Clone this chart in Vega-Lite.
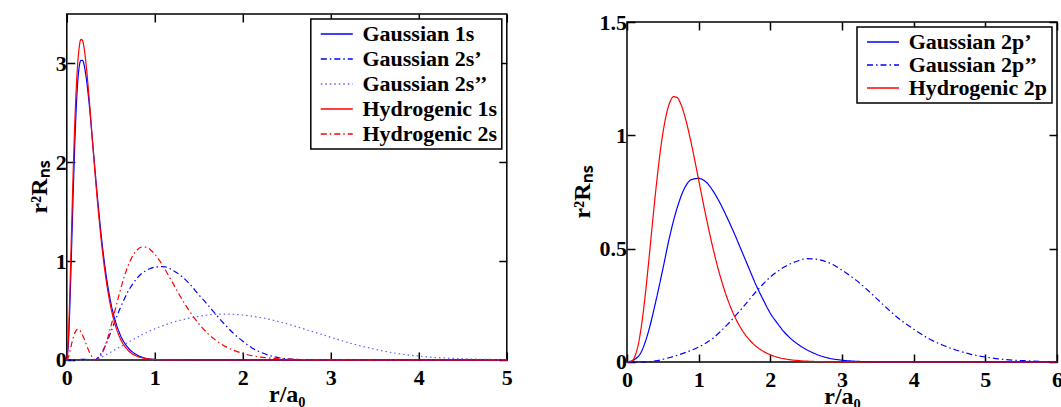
{
"$schema": "https://vega.github.io/schema/vega-lite/v6.json",
"background": "white",
"padding": {"left": 25.8, "top": 10, "right": 0, "bottom": 0},
"config": {
  "view": {"stroke": "black", "strokeWidth": 1.5},
  "font": "Liberation Serif",
  "axis": {"labelFont": "Liberation Serif", "labelFontWeight": "bold", "labelFontSize": 22, "labelColor": "black",
           "titleFont": "Liberation Serif", "titleFontWeight": "bold", "titleFontSize": 24, "titleColor": "black",
           "grid": false, "domain": false, "tickColor": "black", "tickSize": -8, "tickWidth": 1.5, "labelFlush": false, "format": "~g"},
  "axisX": {"labelPadding": 16, "titlePadding": -6},
  "axisY": {"labelPadding": 8.5, "titlePadding": 4},
  "legend": {"labelFont": "Liberation Serif", "labelFontWeight": "bold", "labelFontSize": 22, "labelColor": "black",
             "strokeColor": "black", "strokeWidth": 1.5, "fillColor": "white", "padding": 4, "symbolSize": 256, "symbolStrokeWidth": 1.3,
             "symbolType": "M-2,0H2", "symbolOffset": 11, "labelOffset": 14.7, "rowPadding": 3, "labelLimit": 300,
             "orient": "top-right", "offset": 5}
},
"datasets": {
  "left": [
    {"s":"Gaussian 1s","r":0,"v":0},{"s":"Gaussian 1s","r":0.02,"v":0.2},{"s":"Gaussian 1s","r":0.04,"v":0.7},{"s":"Gaussian 1s","r":0.06,"v":1.3},{"s":"Gaussian 1s","r":0.08,"v":1.9},{"s":"Gaussian 1s","r":0.1,"v":2.4},{"s":"Gaussian 1s","r":0.12,"v":2.76},{"s":"Gaussian 1s","r":0.14,"v":2.96},{"s":"Gaussian 1s","r":0.16,"v":3.03},{"s":"Gaussian 1s","r":0.18,"v":3.03},{"s":"Gaussian 1s","r":0.2,"v":2.97},{"s":"Gaussian 1s","r":0.22,"v":2.86},{"s":"Gaussian 1s","r":0.25,"v":2.63},{"s":"Gaussian 1s","r":0.3,"v":2.13},{"s":"Gaussian 1s","r":0.35,"v":1.63},{"s":"Gaussian 1s","r":0.4,"v":1.19},{"s":"Gaussian 1s","r":0.45,"v":0.84},{"s":"Gaussian 1s","r":0.5,"v":0.58},{"s":"Gaussian 1s","r":0.55,"v":0.4},{"s":"Gaussian 1s","r":0.6,"v":0.27},{"s":"Gaussian 1s","r":0.7,"v":0.12},{"s":"Gaussian 1s","r":0.8,"v":0.05},{"s":"Gaussian 1s","r":0.9,"v":0.018},{"s":"Gaussian 1s","r":1.0,"v":0.006},{"s":"Gaussian 1s","r":1.2,"v":0.001},{"s":"Gaussian 1s","r":1.5,"v":0},{"s":"Gaussian 1s","r":3,"v":0},{"s":"Gaussian 1s","r":5,"v":0},
    {"s":"Gaussian 2s’","r":0,"v":0},{"s":"Gaussian 2s’","r":0.1,"v":0.004},{"s":"Gaussian 2s’","r":0.2,"v":0.006},{"s":"Gaussian 2s’","r":0.3,"v":0.001},{"s":"Gaussian 2s’","r":0.32,"v":0},{"s":"Gaussian 2s’","r":0.36,"v":0.03},{"s":"Gaussian 2s’","r":0.4,"v":0.08},{"s":"Gaussian 2s’","r":0.45,"v":0.17},{"s":"Gaussian 2s’","r":0.5,"v":0.28},{"s":"Gaussian 2s’","r":0.55,"v":0.4},{"s":"Gaussian 2s’","r":0.6,"v":0.51},{"s":"Gaussian 2s’","r":0.65,"v":0.61},{"s":"Gaussian 2s’","r":0.7,"v":0.7},{"s":"Gaussian 2s’","r":0.75,"v":0.77},{"s":"Gaussian 2s’","r":0.8,"v":0.83},{"s":"Gaussian 2s’","r":0.85,"v":0.875},{"s":"Gaussian 2s’","r":0.9,"v":0.905},{"s":"Gaussian 2s’","r":0.95,"v":0.925},{"s":"Gaussian 2s’","r":1.0,"v":0.94},{"s":"Gaussian 2s’","r":1.1,"v":0.945},{"s":"Gaussian 2s’","r":1.2,"v":0.91},{"s":"Gaussian 2s’","r":1.3,"v":0.85},{"s":"Gaussian 2s’","r":1.4,"v":0.765},{"s":"Gaussian 2s’","r":1.5,"v":0.66},{"s":"Gaussian 2s’","r":1.6,"v":0.56},{"s":"Gaussian 2s’","r":1.7,"v":0.455},{"s":"Gaussian 2s’","r":1.8,"v":0.355},{"s":"Gaussian 2s’","r":1.9,"v":0.265},{"s":"Gaussian 2s’","r":2.0,"v":0.19},{"s":"Gaussian 2s’","r":2.1,"v":0.125},{"s":"Gaussian 2s’","r":2.2,"v":0.08},{"s":"Gaussian 2s’","r":2.3,"v":0.047},{"s":"Gaussian 2s’","r":2.4,"v":0.025},{"s":"Gaussian 2s’","r":2.5,"v":0.013},{"s":"Gaussian 2s’","r":2.6,"v":0.006},{"s":"Gaussian 2s’","r":2.8,"v":0.002},{"s":"Gaussian 2s’","r":3.0,"v":0},{"s":"Gaussian 2s’","r":5,"v":0},
    {"s":"Gaussian 2s’’","r":0,"v":0},{"s":"Gaussian 2s’’","r":0.2,"v":0},{"s":"Gaussian 2s’’","r":0.3,"v":0},{"s":"Gaussian 2s’’","r":0.35,"v":0.01},{"s":"Gaussian 2s’’","r":0.4,"v":0.03},{"s":"Gaussian 2s’’","r":0.5,"v":0.08},{"s":"Gaussian 2s’’","r":0.6,"v":0.13},{"s":"Gaussian 2s’’","r":0.7,"v":0.18},{"s":"Gaussian 2s’’","r":0.8,"v":0.23},{"s":"Gaussian 2s’’","r":0.9,"v":0.275},{"s":"Gaussian 2s’’","r":1.0,"v":0.315},{"s":"Gaussian 2s’’","r":1.2,"v":0.38},{"s":"Gaussian 2s’’","r":1.4,"v":0.425},{"s":"Gaussian 2s’’","r":1.6,"v":0.455},{"s":"Gaussian 2s’’","r":1.8,"v":0.465},{"s":"Gaussian 2s’’","r":2.0,"v":0.455},{"s":"Gaussian 2s’’","r":2.2,"v":0.43},{"s":"Gaussian 2s’’","r":2.4,"v":0.39},{"s":"Gaussian 2s’’","r":2.6,"v":0.34},{"s":"Gaussian 2s’’","r":2.8,"v":0.285},{"s":"Gaussian 2s’’","r":3.0,"v":0.23},{"s":"Gaussian 2s’’","r":3.2,"v":0.175},{"s":"Gaussian 2s’’","r":3.4,"v":0.13},{"s":"Gaussian 2s’’","r":3.6,"v":0.09},{"s":"Gaussian 2s’’","r":3.8,"v":0.06},{"s":"Gaussian 2s’’","r":4.0,"v":0.04},{"s":"Gaussian 2s’’","r":4.2,"v":0.025},{"s":"Gaussian 2s’’","r":4.4,"v":0.016},{"s":"Gaussian 2s’’","r":4.6,"v":0.01},{"s":"Gaussian 2s’’","r":4.8,"v":0.006},{"s":"Gaussian 2s’’","r":5.0,"v":0.003},
    {"s":"Hydrogenic 1s","r":0,"v":0},{"s":"Hydrogenic 1s","r":0.02,"v":0.272},{"s":"Hydrogenic 1s","r":0.04,"v":0.855},{"s":"Hydrogenic 1s","r":0.06,"v":1.514},{"s":"Hydrogenic 1s","r":0.08,"v":2.117},{"s":"Hydrogenic 1s","r":0.1,"v":2.602},{"s":"Hydrogenic 1s","r":0.12,"v":2.948},{"s":"Hydrogenic 1s","r":0.14,"v":3.156},{"s":"Hydrogenic 1s","r":0.16,"v":3.243},{"s":"Hydrogenic 1s","r":0.18,"v":3.229},{"s":"Hydrogenic 1s","r":0.2,"v":3.135},{"s":"Hydrogenic 1s","r":0.22,"v":2.984},{"s":"Hydrogenic 1s","r":0.25,"v":2.689},{"s":"Hydrogenic 1s","r":0.3,"v":2.125},{"s":"Hydrogenic 1s","r":0.35,"v":1.587},{"s":"Hydrogenic 1s","r":0.4,"v":1.138},{"s":"Hydrogenic 1s","r":0.45,"v":0.79},{"s":"Hydrogenic 1s","r":0.5,"v":0.535},{"s":"Hydrogenic 1s","r":0.55,"v":0.356},{"s":"Hydrogenic 1s","r":0.6,"v":0.232},{"s":"Hydrogenic 1s","r":0.7,"v":0.095},{"s":"Hydrogenic 1s","r":0.8,"v":0.0375},{"s":"Hydrogenic 1s","r":0.9,"v":0.0143},{"s":"Hydrogenic 1s","r":1.0,"v":0.0053},{"s":"Hydrogenic 1s","r":1.2,"v":0.0007},{"s":"Hydrogenic 1s","r":1.5,"v":0},{"s":"Hydrogenic 1s","r":3,"v":0},{"s":"Hydrogenic 1s","r":5,"v":0},
    {"s":"Hydrogenic 2s","r":0,"v":0},{"s":"Hydrogenic 2s","r":0.02,"v":0.034},{"s":"Hydrogenic 2s","r":0.05,"v":0.145},{"s":"Hydrogenic 2s","r":0.08,"v":0.247},{"s":"Hydrogenic 2s","r":0.1,"v":0.29},{"s":"Hydrogenic 2s","r":0.12,"v":0.31},{"s":"Hydrogenic 2s","r":0.14,"v":0.307},{"s":"Hydrogenic 2s","r":0.16,"v":0.286},{"s":"Hydrogenic 2s","r":0.2,"v":0.208},{"s":"Hydrogenic 2s","r":0.25,"v":0.094},{"s":"Hydrogenic 2s","r":0.3,"v":0.016},{"s":"Hydrogenic 2s","r":0.333,"v":0},{"s":"Hydrogenic 2s","r":0.36,"v":0.01},{"s":"Hydrogenic 2s","r":0.4,"v":0.063},{"s":"Hydrogenic 2s","r":0.45,"v":0.18},{"s":"Hydrogenic 2s","r":0.5,"v":0.336},{"s":"Hydrogenic 2s","r":0.55,"v":0.509},{"s":"Hydrogenic 2s","r":0.6,"v":0.68},{"s":"Hydrogenic 2s","r":0.65,"v":0.834},{"s":"Hydrogenic 2s","r":0.7,"v":0.96},{"s":"Hydrogenic 2s","r":0.75,"v":1.055},{"s":"Hydrogenic 2s","r":0.8,"v":1.115},{"s":"Hydrogenic 2s","r":0.85,"v":1.143},{"s":"Hydrogenic 2s","r":0.9,"v":1.142},{"s":"Hydrogenic 2s","r":0.95,"v":1.116},{"s":"Hydrogenic 2s","r":1.0,"v":1.071},{"s":"Hydrogenic 2s","r":1.1,"v":0.941},{"s":"Hydrogenic 2s","r":1.2,"v":0.785},{"s":"Hydrogenic 2s","r":1.3,"v":0.629},{"s":"Hydrogenic 2s","r":1.4,"v":0.487},{"s":"Hydrogenic 2s","r":1.5,"v":0.367},{"s":"Hydrogenic 2s","r":1.6,"v":0.27},{"s":"Hydrogenic 2s","r":1.7,"v":0.195},{"s":"Hydrogenic 2s","r":1.8,"v":0.138},{"s":"Hydrogenic 2s","r":2.0,"v":0.066},{"s":"Hydrogenic 2s","r":2.2,"v":0.03},{"s":"Hydrogenic 2s","r":2.4,"v":0.013},{"s":"Hydrogenic 2s","r":2.6,"v":0.006},{"s":"Hydrogenic 2s","r":2.8,"v":0.002},{"s":"Hydrogenic 2s","r":3.0,"v":0.001},{"s":"Hydrogenic 2s","r":3.5,"v":0},{"s":"Hydrogenic 2s","r":5,"v":0}
  ],
  "right": [
    {"s":"Gaussian 2p’","r":0,"v":0},{"s":"Gaussian 2p’","r":0.1,"v":0.01},{"s":"Gaussian 2p’","r":0.2,"v":0.045},{"s":"Gaussian 2p’","r":0.3,"v":0.135},{"s":"Gaussian 2p’","r":0.4,"v":0.265},{"s":"Gaussian 2p’","r":0.5,"v":0.41},{"s":"Gaussian 2p’","r":0.6,"v":0.56},{"s":"Gaussian 2p’","r":0.7,"v":0.68},{"s":"Gaussian 2p’","r":0.8,"v":0.765},{"s":"Gaussian 2p’","r":0.9,"v":0.805},{"s":"Gaussian 2p’","r":1.0,"v":0.81},{"s":"Gaussian 2p’","r":1.1,"v":0.795},{"s":"Gaussian 2p’","r":1.2,"v":0.755},{"s":"Gaussian 2p’","r":1.3,"v":0.7},{"s":"Gaussian 2p’","r":1.4,"v":0.635},{"s":"Gaussian 2p’","r":1.5,"v":0.565},{"s":"Gaussian 2p’","r":1.6,"v":0.49},{"s":"Gaussian 2p’","r":1.7,"v":0.415},{"s":"Gaussian 2p’","r":1.8,"v":0.34},{"s":"Gaussian 2p’","r":1.9,"v":0.275},{"s":"Gaussian 2p’","r":2.0,"v":0.215},{"s":"Gaussian 2p’","r":2.1,"v":0.17},{"s":"Gaussian 2p’","r":2.2,"v":0.13},{"s":"Gaussian 2p’","r":2.4,"v":0.075},{"s":"Gaussian 2p’","r":2.6,"v":0.04},{"s":"Gaussian 2p’","r":2.8,"v":0.018},{"s":"Gaussian 2p’","r":3.0,"v":0.008},{"s":"Gaussian 2p’","r":3.2,"v":0.003},{"s":"Gaussian 2p’","r":3.5,"v":0.0005},{"s":"Gaussian 2p’","r":4,"v":0},{"s":"Gaussian 2p’","r":6,"v":0},
    {"s":"Gaussian 2p’’","r":0,"v":0},{"s":"Gaussian 2p’’","r":0.2,"v":0},{"s":"Gaussian 2p’’","r":0.4,"v":0.005},{"s":"Gaussian 2p’’","r":0.6,"v":0.02},{"s":"Gaussian 2p’’","r":0.8,"v":0.04},{"s":"Gaussian 2p’’","r":1.0,"v":0.066},{"s":"Gaussian 2p’’","r":1.2,"v":0.105},{"s":"Gaussian 2p’’","r":1.4,"v":0.165},{"s":"Gaussian 2p’’","r":1.6,"v":0.235},{"s":"Gaussian 2p’’","r":1.8,"v":0.31},{"s":"Gaussian 2p’’","r":2.0,"v":0.375},{"s":"Gaussian 2p’’","r":2.2,"v":0.42},{"s":"Gaussian 2p’’","r":2.4,"v":0.448},{"s":"Gaussian 2p’’","r":2.5,"v":0.456},{"s":"Gaussian 2p’’","r":2.6,"v":0.455},{"s":"Gaussian 2p’’","r":2.8,"v":0.44},{"s":"Gaussian 2p’’","r":3.0,"v":0.405},{"s":"Gaussian 2p’’","r":3.2,"v":0.36},{"s":"Gaussian 2p’’","r":3.4,"v":0.305},{"s":"Gaussian 2p’’","r":3.6,"v":0.245},{"s":"Gaussian 2p’’","r":3.8,"v":0.19},{"s":"Gaussian 2p’’","r":4.0,"v":0.145},{"s":"Gaussian 2p’’","r":4.2,"v":0.105},{"s":"Gaussian 2p’’","r":4.4,"v":0.075},{"s":"Gaussian 2p’’","r":4.6,"v":0.052},{"s":"Gaussian 2p’’","r":4.8,"v":0.034},{"s":"Gaussian 2p’’","r":5.0,"v":0.022},{"s":"Gaussian 2p’’","r":5.2,"v":0.013},{"s":"Gaussian 2p’’","r":5.4,"v":0.008},{"s":"Gaussian 2p’’","r":5.6,"v":0.005},{"s":"Gaussian 2p’’","r":5.8,"v":0.002},{"s":"Gaussian 2p’’","r":6.0,"v":0.001},
    {"s":"Hydrogenic 2p","r":0,"v":0},{"s":"Hydrogenic 2p","r":0.05,"v":0.0015},{"s":"Hydrogenic 2p","r":0.1,"v":0.0178},{"s":"Hydrogenic 2p","r":0.15,"v":0.0667},{"s":"Hydrogenic 2p","r":0.2,"v":0.1561},{"s":"Hydrogenic 2p","r":0.25,"v":0.2824},{"s":"Hydrogenic 2p","r":0.3,"v":0.4338},{"s":"Hydrogenic 2p","r":0.35,"v":0.5954},{"s":"Hydrogenic 2p","r":0.4,"v":0.7525},{"s":"Hydrogenic 2p","r":0.45,"v":0.8929},{"s":"Hydrogenic 2p","r":0.5,"v":1.0082},{"s":"Hydrogenic 2p","r":0.55,"v":1.0935},{"s":"Hydrogenic 2p","r":0.6,"v":1.1473},{"s":"Hydrogenic 2p","r":0.65,"v":1.1707},{"s":"Hydrogenic 2p","r":0.7,"v":1.1666},{"s":"Hydrogenic 2p","r":0.75,"v":1.1389},{"s":"Hydrogenic 2p","r":0.8,"v":1.0921},{"s":"Hydrogenic 2p","r":0.9,"v":0.9601},{"s":"Hydrogenic 2p","r":1.0,"v":0.8031},{"s":"Hydrogenic 2p","r":1.1,"v":0.6453},{"s":"Hydrogenic 2p","r":1.2,"v":0.5016},{"s":"Hydrogenic 2p","r":1.3,"v":0.3792},{"s":"Hydrogenic 2p","r":1.4,"v":0.2799},{"s":"Hydrogenic 2p","r":1.5,"v":0.2024},{"s":"Hydrogenic 2p","r":1.6,"v":0.1438},{"s":"Hydrogenic 2p","r":1.7,"v":0.1006},{"s":"Hydrogenic 2p","r":1.8,"v":0.0694},{"s":"Hydrogenic 2p","r":1.9,"v":0.0473},{"s":"Hydrogenic 2p","r":2.0,"v":0.0319},{"s":"Hydrogenic 2p","r":2.2,"v":0.014},{"s":"Hydrogenic 2p","r":2.4,"v":0.006},{"s":"Hydrogenic 2p","r":2.6,"v":0.0025},{"s":"Hydrogenic 2p","r":2.8,"v":0.001},{"s":"Hydrogenic 2p","r":3.0,"v":0.0004},{"s":"Hydrogenic 2p","r":3.5,"v":0},{"s":"Hydrogenic 2p","r":6,"v":0}
  ]
},
"spacing": 56.2,
"resolve": {"scale": {"color": "independent", "strokeDash": "independent"}, "legend": {"color": "independent", "strokeDash": "independent"}},
"hconcat": [
  {
    "width": 440, "height": 346,
    "data": {"name": "left"},
    "layer": [
      {"mark": {"type": "line", "interpolate": "monotone", "strokeWidth": 1.2},
       "encoding": {
         "x": {"field": "r", "type": "quantitative", "scale": {"domain": [0, 5], "nice": false, "zero": false},
               "axis": {"orient": "bottom", "values": [0,1,2,3,4,5], "title": "r/a₀"}},
         "y": {"field": "v", "type": "quantitative", "scale": {"domain": [0, 3.5], "nice": false},
               "axis": {"orient": "left", "values": [0,1,2,3], "title": "r²Rₙₛ"}},
         "color": {"field": "s", "type": "nominal",
                   "scale": {"domain": ["Gaussian 1s","Gaussian 2s’","Gaussian 2s’’","Hydrogenic 1s","Hydrogenic 2s"],
                             "range": ["#0000ff","#0000ff","#6060ff","#ff0000","#ff0000"]},
                   "legend": {"title": null}},
         "strokeDash": {"field": "s", "type": "nominal",
                   "scale": {"domain": ["Gaussian 1s","Gaussian 2s’","Gaussian 2s’’","Hydrogenic 1s","Hydrogenic 2s"],
                             "range": [[1,0],[6,3,1.5,3],[1.5,3],[1,0],[6,3,1.5,3]]},
                   "legend": {"title": null}}
       }},
      {"mark": {"type": "line", "opacity": 0},
       "encoding": {
         "x": {"field": "r", "type": "quantitative", "axis": {"orient": "top", "values": [0,1,2,3,4,5], "labels": false, "title": null}},
         "y": {"field": "v", "type": "quantitative", "axis": {"orient": "right", "values": [0,1,2,3], "labels": false, "title": null}}
       }}
    ],
    "resolve": {"axis": {"x": "independent", "y": "independent"}}
  },
  {
    "bounds": "flush",
    "spacing": 7,
    "resolve": {"scale": {"color": "independent", "strokeDash": "independent"}, "legend": {"color": "independent", "strokeDash": "independent"}},
    "vconcat": [
      {"width": 430, "height": 1, "data": {"values": [{}]}, "mark": {"type": "rule", "opacity": 0}, "encoding": {}, "view": {"stroke": null}},
      {
        "width": 430, "height": 340,
        "data": {"name": "right"},
        "layer": [
          {"mark": {"type": "line", "interpolate": "monotone", "strokeWidth": 1.2},
           "encoding": {
             "x": {"field": "r", "type": "quantitative", "scale": {"domain": [0, 6], "nice": false, "zero": false},
                   "axis": {"orient": "bottom", "values": [0,1,2,3,4,5,6], "title": "r/a₀"}},
             "y": {"field": "v", "type": "quantitative", "scale": {"domain": [0, 1.5], "nice": false},
                   "axis": {"orient": "left", "values": [0,0.5,1,1.5], "title": "r²Rₙₛ"}},
             "color": {"field": "s", "type": "nominal",
                       "scale": {"domain": ["Gaussian 2p’","Gaussian 2p’’","Hydrogenic 2p"],
                                 "range": ["#0000ff","#0000ff","#ff0000"]},
                       "legend": {"title": null, "rowPadding": 1}},
             "strokeDash": {"field": "s", "type": "nominal",
                       "scale": {"domain": ["Gaussian 2p’","Gaussian 2p’’","Hydrogenic 2p"],
                                 "range": [[1,0],[6,3,1.5,3],[1,0]]},
                       "legend": {"title": null, "rowPadding": 1}}
           }},
          {"mark": {"type": "line", "opacity": 0},
           "encoding": {
             "x": {"field": "r", "type": "quantitative", "axis": {"orient": "top", "values": [0,1,2,3,4,5,6], "labels": false, "title": null}},
             "y": {"field": "v", "type": "quantitative", "axis": {"orient": "right", "values": [0,0.5,1,1.5], "labels": false, "title": null}}
           }}
        ],
        "resolve": {"axis": {"x": "independent", "y": "independent"}}
      }
    ]
  }
]
}
